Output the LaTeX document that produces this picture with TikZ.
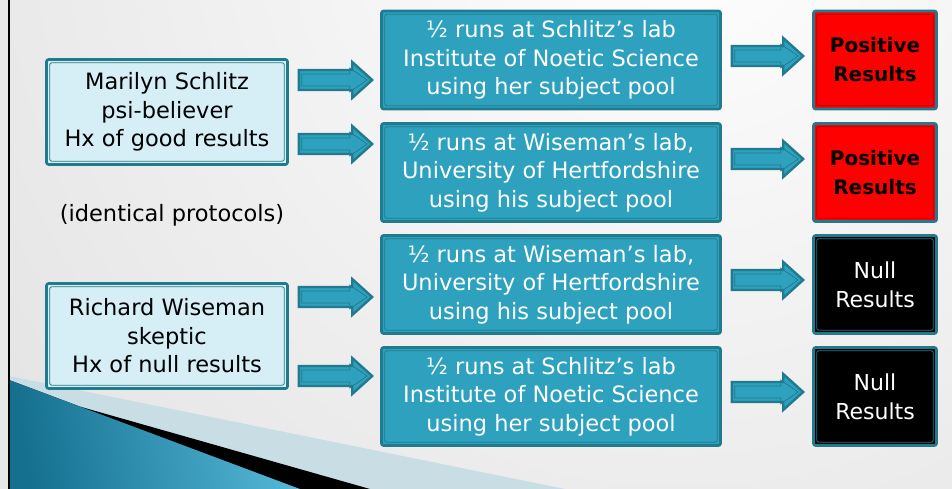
\documentclass[tikz,border=0pt]{standalone}
\usepackage{fontspec}
\setmainfont{DejaVu Sans}
\usetikzlibrary{calc}
\definecolor{tealD}{HTML}{217A8E}
\definecolor{tealM}{HTML}{2DA1BE}
\definecolor{tealL}{HTML}{D6EFF6}
\definecolor{wedgeD}{HTML}{15708F}
\definecolor{wedgeL}{HTML}{55B7D7}
\definecolor{stripe}{HTML}{C9DDE5}
\definecolor{redI}{HTML}{B00000}

\tikzset{
  boxbase/.style={draw=tealD, line width=2.6pt, rounded corners=2pt, align=center, inner sep=0pt,
    font=\fontsize{22.5}{28.5}\selectfont},
  insetline/.style={path picture={\draw[line width=0.8pt,#1]
      ([shift={(3.3pt,-3.3pt)}]path picture bounding box.north west) rectangle
      ([shift={(-3.3pt,3.3pt)}]path picture bounding box.south east);}},
  leftbox/.style={boxbase, fill=tealL, text=black, insetline=tealD, minimum width=241pt, minimum height=105pt},
  midbox/.style={boxbase, fill=tealM, text=white, insetline=tealD, minimum width=339pt, minimum height=98pt},
  posbox/.style={boxbase, fill=red, text=black, insetline=redI, minimum width=123pt, minimum height=98pt,
    font=\bfseries\fontsize{20}{29}\selectfont},
  nullbox/.style={boxbase, fill=black, text=white, insetline=tealD, minimum width=123pt, minimum height=98pt,
    font=\fontsize{22}{29}\selectfont},
  arrowouter/.style={draw=tealD, fill=tealM, line width=2.4pt, line join=miter},
  arrowinner/.style={draw=tealD, line width=0.7pt, line join=miter},
  plaintext/.style={font=\fontsize{22.5}{28.5}\selectfont, text=black, inner sep=0pt}
}

\newcommand\myblockarrow[2]{%
  \draw[arrowouter] let \p1=(#1), \p2=(#2) in
    (\x1,\y1+10pt) -- (\x2-20pt,\y1+10pt) -- (\x2-20pt,\y1+18pt) -- (\x2,\y1) --
    (\x2-20pt,\y1-18pt) -- (\x2-20pt,\y1-10pt) -- (\x1,\y1-10pt) -- cycle;
  \draw[arrowinner] let \p1=(#1), \p2=(#2) in
    (\x1+3pt,\y1+6pt) -- (\x2-22.5pt,\y1+6pt) -- (\x2-22.5pt,\y1+12pt) -- (\x2-5pt,\y1) --
    (\x2-22.5pt,\y1-12pt) -- (\x2-22.5pt,\y1-6pt) -- (\x1+3pt,\y1-6pt) -- cycle;
}

\begin{document}
\begin{tikzpicture}[x=1pt,y=-1pt]
  \useasboundingbox (0,0) rectangle (952,489);
  % background
  \fill[black!9] (0,0) rectangle (952,489);
  \begin{scope}
    \clip (9,0) rectangle (952,489);
    \shade[inner color=white, outer color=black!13] (680,-100) circle (1050);
  \end{scope}
  % page-curl wedge
  \fill[stripe] (9,376) -- (565,489) -- (9,489) -- cycle;
  \fill[black] (9,380) -- (80,406.6) -- (370,489) -- (9,489) -- cycle;
  \shade[left color=wedgeD, right color=wedgeL, shading angle=100]
    (9,380) -- (300,489) -- (9,489) -- cycle;
  % left border line
  \draw[black, line width=2.2pt] (9,0) -- (9,489);

  % left boxes
  \node[leftbox] (ms) at (167,112) {Marilyn Schlitz\\psi-believer\\Hx of good results};
  \node[leftbox] (rw) at (167,336) {Richard Wiseman\\skeptic\\Hx of null results};
  \node[plaintext] (ip) at (172,215) {(identical protocols)};

  % middle boxes
  \node[midbox] (b1) at (551,60) {½ runs at Schlitz’s lab\\Institute of Noetic Science\\using her subject pool};
  \node[midbox] (b2) at (551,172.5) {½ runs at Wiseman’s lab,\\University of Hertfordshire\\using his subject pool};
  \node[midbox] (b3) at (551,284.5) {½ runs at Wiseman’s lab,\\University of Hertfordshire\\using his subject pool};
  \node[midbox] (b4) at (551,396.5) {½ runs at Schlitz’s lab\\Institute of Noetic Science\\using her subject pool};

  % result boxes
  \node[posbox] (r1) at (875,60) {Positive\\Results};
  \node[posbox] (r2) at (875,172.5) {Positive\\Results};
  \node[nullbox] (r3) at (875,284.5) {Null\\Results};
  \node[nullbox] (r4) at (875,396.5) {Null\\Results};

  % arrow end points
  \coordinate (a1s) at ($(ms.east)+(10,-32)$);
  \coordinate (a1e) at ($(b1.west)+(-8,0)$);
  \coordinate (a2s) at ($(ms.east)+(10,32)$);
  \coordinate (a2e) at ($(b2.west)+(-8,0)$);
  \coordinate (a3s) at ($(rw.east)+(10,-39)$);
  \coordinate (a3e) at ($(b3.west)+(-8,0)$);
  \coordinate (a4s) at ($(rw.east)+(10,40)$);
  \coordinate (a4e) at ($(b4.west)+(-8,0)$);
  \coordinate (c1s) at ($(b1.east)+(10,-4)$);
  \coordinate (c1e) at ($(r1.west)+(-9,0)$);
  \coordinate (c2s) at ($(b2.east)+(10,-13.5)$);
  \coordinate (c2e) at ($(r2.west)+(-9,0)$);
  \coordinate (c3s) at ($(b3.east)+(10,-4.5)$);
  \coordinate (c3e) at ($(r3.west)+(-9,0)$);
  \coordinate (c4s) at ($(b4.east)+(10,-4.5)$);
  \coordinate (c4e) at ($(r4.west)+(-9,0)$);

  \myblockarrow{a1s}{a1e}
  \myblockarrow{a2s}{a2e}
  \myblockarrow{a3s}{a3e}
  \myblockarrow{a4s}{a4e}
  \myblockarrow{c1s}{c1e}
  \myblockarrow{c2s}{c2e}
  \myblockarrow{c3s}{c3e}
  \myblockarrow{c4s}{c4e}
\end{tikzpicture}
\end{document}
